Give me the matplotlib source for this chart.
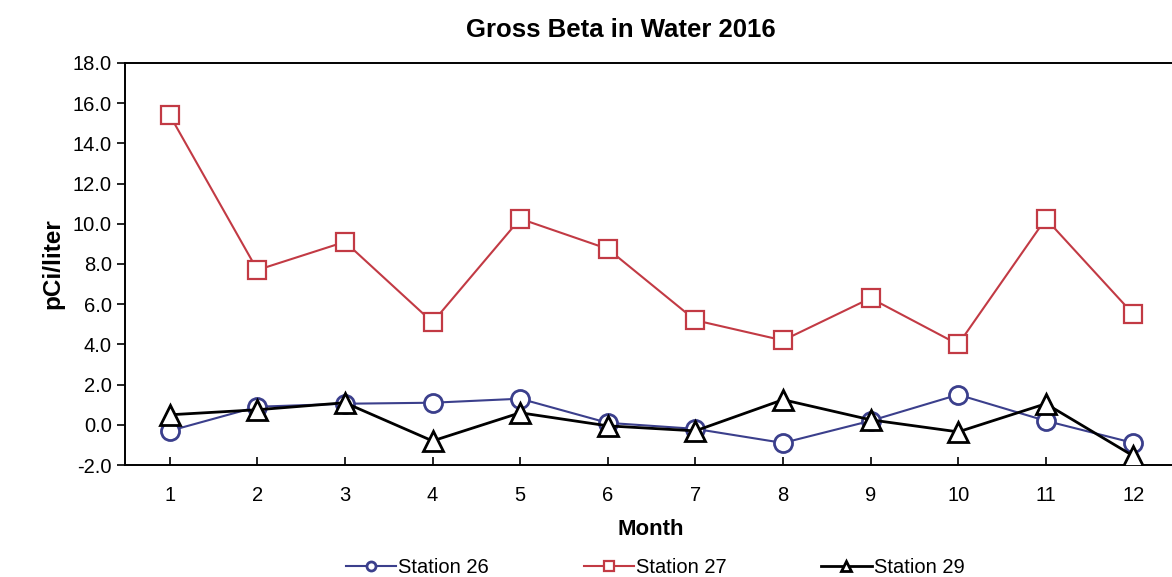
import numpy as np
import matplotlib
matplotlib.use("Agg")
import matplotlib.pyplot as plt

plt.rcParams['font.family'] = ['Liberation Sans', 'DejaVu Sans']

# --- Data
months = [1, 2, 3, 4, 5, 6, 7, 8, 9, 10, 11, 12]
station_26 = [-0.3, 0.9, 1.05, 1.1, 1.3, 0.1, -0.2, -0.9, 0.2, 1.5, 0.2, -0.9]
station_27 = [15.4, 7.7, 9.1, 5.1, 10.25, 8.75, 5.2, 4.2, 6.3, 4.0, 10.25, 5.5]
station_29 = [0.5, 0.75, 1.1, -0.8, 0.6, -0.05, -0.3, 1.25, 0.25, -0.35, 1.05, -1.55]
y_ticks = [-2.0, 0.0, 2.0, 4.0, 6.0, 8.0, 10.0, 12.0, 14.0, 16.0, 18.0]

blue = '#3b3f8c'
red = '#c23a44'

fig = plt.figure(figsize=(11.72, 5.77), dpi=100)
ax = fig.add_axes([0.1067, 0.194, 0.897, 0.697])

l26, = ax.plot(months, station_26, color=blue, lw=1.5, marker='o', ms=13,
               mfc='white', mec=blue, mew=2, label='Station 26', zorder=3)
l27, = ax.plot(months, station_27, color=red, lw=1.5, marker='s', ms=13,
               mfc='white', mec=red, mew=1.6, label='Station 27', zorder=3)
l29, = ax.plot(months, station_29, color='black', lw=2, marker='^', ms=15,
               mfc='white', mec='black', mew=2, label='Station 29', zorder=4)

ax.set_xlim(0.49, 12.49)
ax.set_ylim(-2, 18)
ax.set_xticks(months)
ax.set_yticks(y_ticks)
ax.set_yticklabels([f'{v:.1f}' for v in y_ticks])
ax.tick_params(axis='y', direction='out', length=6, labelsize=14.5, width=1.2)
ax.tick_params(axis='x', direction='in', length=6, labelsize=14.5, width=1.2, pad=15)
for sp in ax.spines.values():
    sp.set_linewidth(1.4)
ax.spines['right'].set_visible(False)

ax.set_xlabel('Month', fontsize=16, fontweight='bold', labelpad=10)
ax.set_ylabel('pCi/liter', fontsize=17.5, fontweight='bold', labelpad=6)
fig.suptitle('Gross Beta in Water 2016', fontsize=18.5, fontweight='bold', x=0.53, y=0.968)

fig.legend(handles=[l26, l27, l29], loc='lower center', bbox_to_anchor=(0.559, -0.032),
           ncol=3, frameon=False, fontsize=14.5, markerscale=0.5,
           columnspacing=4.7, handlelength=2.5, handletextpad=0.1)

plt.savefig('out.png', dpi=100)
plt.close()
